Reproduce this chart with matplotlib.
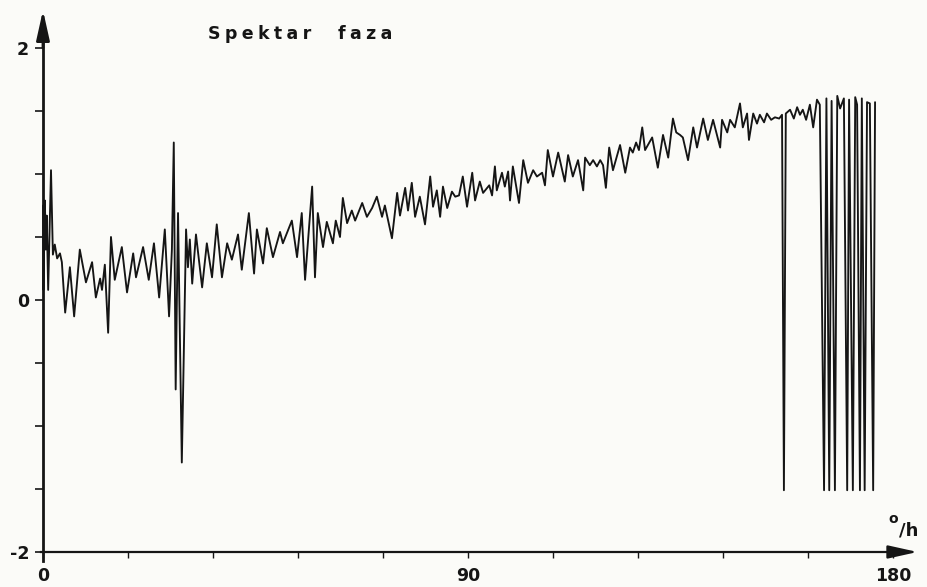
import matplotlib
matplotlib.use("Agg")
import matplotlib.pyplot as plt

# frequency (deg/h) and phase values
freq = [0.0, 0.1, 0.4, 0.6, 0.8, 1.1, 1.7, 2.1, 2.5, 3.0, 3.6, 4.0, 4.7, 5.7, 6.6, 7.8, 9.1, 10.4, 11.2, 12.1,
        12.5, 13.1, 13.8, 14.4, 15.2, 16.7, 17.8, 19.1, 19.7, 21.2, 22.4, 23.5, 24.6, 25.8, 26.7, 27.3, 27.7, 28.1,
        28.6, 29.4, 30.3, 30.7, 31.1, 31.6, 32.4, 33.7, 34.7, 35.8, 36.8, 37.9, 39.0, 40.0, 41.3, 42.1, 43.6, 44.7,
        45.3, 46.6, 47.4, 48.7, 50.2, 50.8, 52.7, 53.8, 54.8, 55.5, 57.0, 57.6, 58.2, 59.3, 60.1, 61.4, 62.0, 62.9,
        63.5, 64.4, 65.4, 66.1, 67.6, 68.6, 69.7, 70.7, 71.8, 72.4, 73.9, 75.0, 75.6, 76.7, 77.3, 78.1, 78.8, 79.8,
        80.9, 82.0, 82.6, 83.4, 84.1, 84.7, 85.6, 86.6, 87.3, 88.1, 88.9, 89.8, 90.9, 91.5, 92.5, 93.2, 94.5, 95.1,
        95.7, 96.1, 97.2, 97.8, 98.5, 98.9, 99.5, 100.8, 101.7, 102.7, 103.8, 104.6, 105.7, 106.3, 106.9, 108.0,
        109.1, 110.5, 111.2, 112.2, 113.3, 114.4, 114.8, 115.8, 116.5, 117.3, 118.0, 118.6, 119.2, 119.9, 120.7,
        122.2, 123.3, 124.3, 124.9, 125.6, 126.2, 126.9, 127.5, 129.0, 130.2, 131.3, 132.4, 133.4, 134.1, 134.9,
        135.5, 136.6, 137.7, 138.5, 139.8, 140.8, 141.9, 143.4, 143.8, 144.9, 145.5, 146.5, 147.6, 148.2, 149.1,
        149.5, 150.4, 151.2, 151.8, 152.7, 153.3, 154.2, 155.0, 155.9, 156.5, 156.9, 157.3, 158.2, 159.0, 159.7,
        160.3, 160.9, 161.6, 162.4, 163.1, 163.9, 164.5, 165.4, 165.9, 166.5, 167.0, 167.7, 168.2, 168.8, 169.6,
        170.3, 170.7, 171.5, 172.0, 172.4, 173.0, 173.4, 174.0, 174.5, 175.1, 175.8, 176.2]

phase = [0.75, 0.08, 0.79, 0.40, 0.67, 0.08, 1.03, 0.36, 0.44, 0.33, 0.37, 0.30, -0.10, 0.26, -0.13, 0.40, 0.14,
         0.30, 0.02, 0.17, 0.08, 0.28, -0.26, 0.50, 0.16, 0.42, 0.06, 0.37, 0.18, 0.42, 0.16, 0.45, 0.02, 0.56,
         -0.13, 0.40, 1.25, -0.71, 0.69, -1.29, 0.56, 0.26, 0.48, 0.13, 0.52, 0.10, 0.45, 0.18, 0.60, 0.18, 0.45,
         0.32, 0.52, 0.24, 0.69, 0.21, 0.56, 0.29, 0.57, 0.34, 0.54, 0.45, 0.63, 0.34, 0.69, 0.16, 0.90, 0.18,
         0.69, 0.42, 0.62, 0.45, 0.63, 0.50, 0.81, 0.61, 0.71, 0.63, 0.77, 0.66, 0.73, 0.82, 0.66, 0.75, 0.49,
         0.85, 0.67, 0.89, 0.71, 0.93, 0.66, 0.82, 0.60, 0.98, 0.74, 0.87, 0.66, 0.90, 0.73, 0.86, 0.82, 0.83,
         0.98, 0.74, 1.01, 0.79, 0.94, 0.85, 0.91, 0.83, 1.06, 0.87, 1.01, 0.90, 1.02, 0.79, 1.06, 0.77, 1.11,
         0.93, 1.03, 0.98, 1.01, 0.91, 1.19, 0.98, 1.17, 0.94, 1.15, 0.98, 1.11, 0.87, 1.13, 1.07, 1.11, 1.06,
         1.11, 1.07, 0.89, 1.21, 1.03, 1.23, 1.01, 1.21, 1.17, 1.25, 1.19, 1.37, 1.19, 1.29, 1.05, 1.31, 1.13,
         1.44, 1.33, 1.31, 1.29, 1.11, 1.37, 1.21, 1.44, 1.27, 1.43, 1.21, 1.43, 1.33, 1.43, 1.37, 1.56, 1.37,
         1.48, 1.27, 1.48, 1.40, 1.47, 1.41, 1.48, 1.43, 1.45, 1.44, 1.47, -1.51, 1.48, 1.51, 1.44, 1.53, 1.47,
         1.51, 1.43, 1.55, 1.37, 1.59, 1.55, -1.51, 1.60, -1.51, 1.58, -1.51, 1.62, 1.52, 1.60, -1.51, 1.59,
         -1.51, 1.61, 1.55, -1.51, 1.60, -1.51, 1.57, 1.56, -1.51, 1.57]

x_major = [0, 90, 180]
x_major_labels = ["0", "90", "180"]
x_minor = [18, 36, 54, 72, 108, 126, 144, 162]
y_major = [-2, 0, 2]
y_major_labels = ["-2", "0", "2"]
y_minor = [-1.5, -1.0, -0.5, 0.5, 1.0, 1.5]

title = "S\u2005p\u2005e\u2005k\u2005t\u2005a\u2005r\u2005   \u2005f\u2005a\u2005z\u2005a"

ink = "#151515"
bg = "#fbfbf8"

fig = plt.figure(figsize=(9.27, 5.87), dpi=100, facecolor=bg)
ax = fig.add_axes([0, 0, 1, 1], facecolor=bg)
ax.set_xlim(-9.1, 187.2)
ax.set_ylim(-2.278, 2.381)

ax.plot(freq, phase, color=ink, lw=1.35, solid_joinstyle="round", solid_capstyle="round")

for s in ("top", "right"):
    ax.spines[s].set_visible(False)
ax.spines["left"].set_position(("data", 0))
ax.spines["bottom"].set_position(("data", -2))
ax.spines["left"].set_bounds(-2.07, 2.05)
ax.spines["bottom"].set_bounds(-0.4, 181)
ax.spines["left"].set_linewidth(2.0)
ax.spines["bottom"].set_linewidth(1.6)
ax.spines["left"].set_color(ink)
ax.spines["bottom"].set_color(ink)

ax.set_xticks(x_major)
ax.set_xticklabels(x_major_labels)
ax.set_xticks(x_minor, minor=True)
ax.set_yticks(y_major)
ax.set_yticklabels(y_major_labels)
ax.set_yticks(y_minor, minor=True)

for lab in ax.get_xticklabels() + ax.get_yticklabels():
    lab.set_fontproperties(matplotlib.font_manager.FontProperties(family="DejaVu Sans", weight="bold", size=12.5))
    lab.set_color(ink)

ax.tick_params(axis="x", which="both", direction="out", length=4, width=1.0, color=ink, pad=7)
ax.tick_params(axis="y", which="both", direction="out", length=6, width=1.2, color=ink, pad=4)

# axis arrows
ax.annotate("", xy=(0, 2.30), xytext=(0, 2.0),
            arrowprops=dict(arrowstyle="-|>,head_length=1.8,head_width=0.4", color=ink, lw=2.0,
                            shrinkA=0, shrinkB=0))
ax.annotate("", xy=(185.2, -2), xytext=(179.5, -2),
            arrowprops=dict(arrowstyle="-|>,head_length=1.8,head_width=0.4", color=ink, lw=1.6,
                            shrinkA=0, shrinkB=0))

ax.text(34.9, 2.11, title, ha="left", va="center", fontsize=12.5, fontweight="bold",
        family="DejaVu Sans", color=ink)

ax.text(180.0, -1.74, "o", ha="center", va="center", fontsize=10, fontweight="bold",
        family="DejaVu Sans", color=ink)
ax.text(181.2, -1.87, "/h", ha="left", va="baseline", fontsize=13, fontweight="bold",
        family="DejaVu Sans", color=ink)

fig.savefig("out.png", dpi=100, facecolor=bg)
